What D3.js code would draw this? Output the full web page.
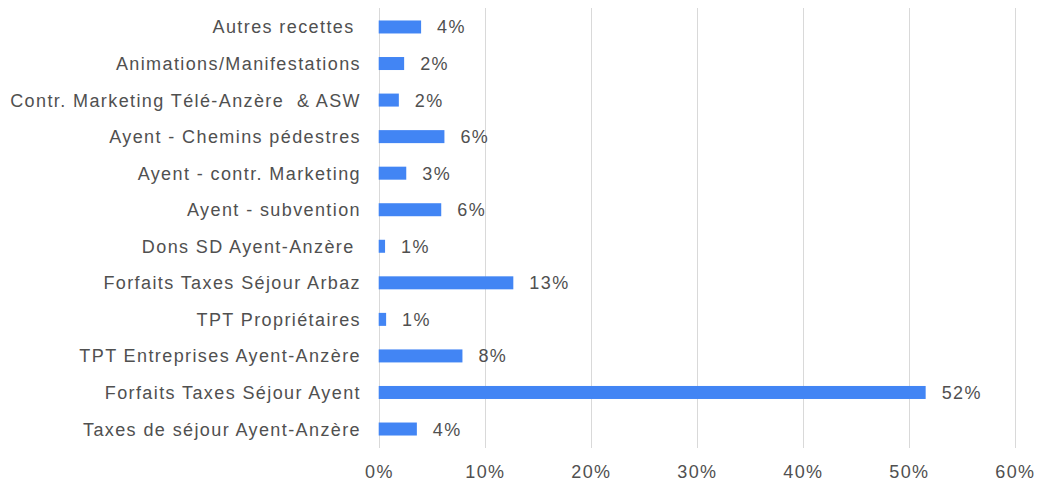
<!DOCTYPE html>
<html>
<head>
<meta charset="utf-8">
<script src="https://cdnjs.cloudflare.com/ajax/libs/d3/7.8.5/d3.min.js"></script>
<style>
body { margin: 0; background: #fff; }
text { font-family: "Liberation Sans", Arial, sans-serif; white-space: pre; }
</style>
</head>
<body>
<script>
// chart data
var categories = [
	'Autres recettes ',
	'Animations/Manifestations',
	'Contr. Marketing Télé-Anzère  & ASW',
	'Ayent - Chemins pédestres',
	'Ayent - contr. Marketing',
	'Ayent - subvention',
	'Dons SD Ayent-Anzère ',
	'Forfaits Taxes Séjour Arbaz',
	'TPT Propriétaires',
	'TPT Entreprises Ayent-Anzère',
	'Forfaits Taxes Séjour Ayent',
	'Taxes de séjour Ayent-Anzère'
];
var values = [0.040, 0.024, 0.019, 0.062, 0.026, 0.059, 0.006, 0.127, 0.007, 0.079, 0.516, 0.036];
var valueLabels = ['4%', '2%', '2%', '6%', '3%', '6%', '1%', '13%', '1%', '8%', '52%', '4%'];
var ticks = [0, 0.1, 0.2, 0.3, 0.4, 0.5, 0.6];

var width = 1039, height = 481;
var barHeight = 13;
var textColor = '#505050';

var svg = d3.select('body').append('svg')
	.attr('width', width)
	.attr('height', height);

var x = d3.scaleLinear().domain([0, 0.6]).range([378.7, 1014.7]);
var y = d3.scaleBand().domain(categories).range([8.7, 447.3]).padding(0);

var rows = categories.map(function(c, i){ return {cat: c, val: values[i], label: valueLabels[i]}; });

// gridlines
svg.append('g').attr('id', 'grid')
	.selectAll('line')
	.data(ticks)
	.enter()
	.append('line')
	.attr('x1', d => Math.round(x(d)) + 0.5)
	.attr('x2', d => Math.round(x(d)) + 0.5)
	.attr('y1', 8)
	.attr('y2', 448)
	.attr('stroke', '#d9d9d9')
	.attr('stroke-width', 1);

// tick labels
svg.append('g').attr('id', 'xaxis')
	.selectAll('text')
	.data(ticks)
	.enter()
	.append('text')
	.attr('x', d => x(d) + 0.7)
	.attr('y', 478)
	.attr('text-anchor', 'middle')
	.attr('font-size', '18px')
	.attr('letter-spacing', '1.4px')
	.attr('fill', textColor)
	.text(d3.format('.0%'));

// bars
svg.append('g').attr('id', 'bars')
	.selectAll('rect')
	.data(rows)
	.enter()
	.append('rect')
	.attr('x', x(0))
	.attr('y', d => y(d.cat) + (y.step() - barHeight) / 2)
	.attr('width', d => x(d.val) - x(0))
	.attr('height', barHeight)
	.attr('fill', '#4285f4');

// category labels
svg.append('g').attr('id', 'yaxis')
	.selectAll('text')
	.data(rows)
	.enter()
	.append('text')
	.attr('x', 361)
	.attr('y', d => y(d.cat) + y.step() / 2 + 6.5)
	.attr('text-anchor', 'end')
	.attr('font-size', '18px')
	.attr('letter-spacing', '1.4px')
	.attr('fill', textColor)
	.text(d => d.cat);

// value labels
svg.append('g').attr('id', 'values')
	.selectAll('text')
	.data(rows)
	.enter()
	.append('text')
	.attr('x', d => x(d.val) + 16)
	.attr('y', d => y(d.cat) + y.step() / 2 + 6.5)
	.attr('font-size', '18px')
	.attr('letter-spacing', '1.4px')
	.attr('fill', textColor)
	.text(d => d.label);
</script>
</body>
</html>
